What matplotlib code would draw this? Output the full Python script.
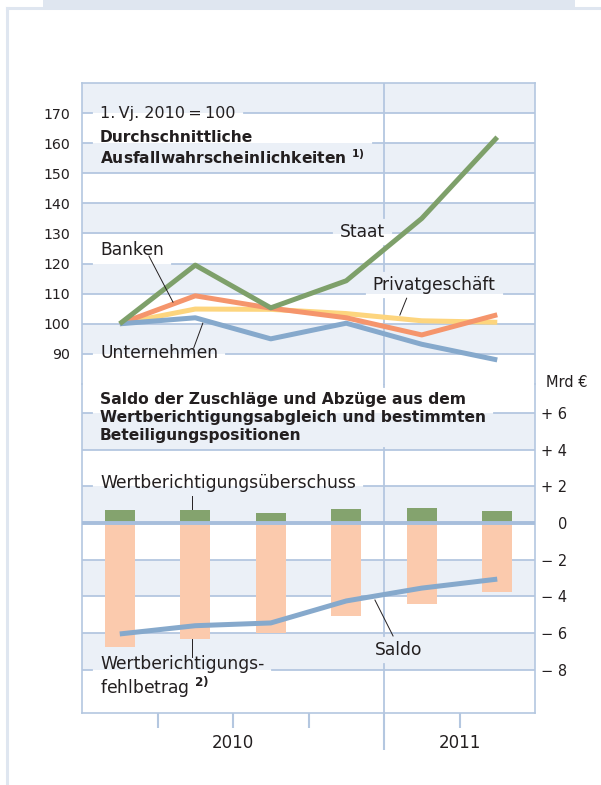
import numpy as np
import matplotlib
matplotlib.use('Agg')
import matplotlib.pyplot as plt
from matplotlib.lines import Line2D
from matplotlib.patches import Rectangle

# data (quarters 1.Vj. 2010 .. 2.Vj. 2011)
quarters = ['1.Vj.10', '2.Vj.10', '3.Vj.10', '4.Vj.10', '1.Vj.11', '2.Vj.11']
staat = [100, 119.5, 105.3, 114.3, 135.0, 162.0]
banken = [100, 109.3, 105.2, 102.0, 96.3, 103.0]
privat = [100, 104.9, 104.8, 103.4, 101.0, 100.5]
unternehmen = [100, 102.0, 95.0, 100.2, 93.2, 88.0]

ueberschuss = [0.71, 0.71, 0.53, 0.78, 0.80, 0.67]
fehlbetrag = [-6.76, -6.34, -6.00, -5.05, -4.39, -3.75]
saldo = [-6.05, -5.60, -5.45, -4.25, -3.55, -3.06]

left_ticks = [170, 160, 150, 140, 130, 120, 110, 100, 90]
right_ticks = [6, 4, 2, 0, -2, -4, -6, -8]
right_labels = ['+ 6', '+ 4', '+ 2', '0', '\u2212 2', '\u2212 4', '\u2212 6', '\u2212 8']
years = ['2010', '2011']
year_centers = [2, 5]

BAND = '#ebf0f7'
GRID = '#b4c7e0'
TXT = '#231f20'
FS = 12.3

plt.rcParams['font.family'] = ['DejaVu Sans']
plt.rcParams['mathtext.fontset'] = 'dejavusans'
plt.rcParams['text.color'] = TXT

W, H = 601, 785
fig = plt.figure(figsize=(W / 100, H / 100), dpi=100)


def frac(x0, y0, x1, y1):
    return [x0 / W, 1 - y1 / H, (x1 - x0) / W, (y1 - y0) / H]


ax1 = fig.add_axes(frac(82, 83, 535, 384))
ax2 = fig.add_axes(frac(82, 384, 535, 713))

# page decoration
fig.add_artist(Rectangle((43 / W, 1 - 7 / H), (575 - 43) / W, 7 / H,
                         transform=fig.transFigure, color='#dfe6f0', lw=0))
fig.add_artist(Line2D([7 / W, 7 / W], [0, 1 - 8 / H], color='#dfe6f0', lw=2.2))
fig.add_artist(Line2D([7 / W, 1], [1 - 8 / H, 1 - 8 / H], color='#dfe6f0', lw=2.2))

x = np.arange(len(quarters)) + 0.5

for ax in (ax1, ax2):
    ax.set_xlim(0, 6)
    ax.set_facecolor('none')
    for s in ax.spines.values():
        s.set_color(GRID)
        s.set_linewidth(1.2)

ax1.set_ylim(80, 180)
ax2.set_ylim(-10.36, 7.58)
ax1.spines['bottom'].set_visible(False)
ax2.spines['top'].set_visible(False)

# bands
for v in [90, 110, 130, 150, 170]:
    ax1.axhspan(v, v + 10, color=BAND, lw=0, zorder=0)
for v in [4, 0, -4, -8]:
    ax2.axhspan(v, v + 2, color=BAND, lw=0, zorder=0)

# top panel
ax1.set_xticks([])
ax1.set_yticks(left_ticks)
ax1.set_yticklabels([str(t) for t in left_ticks])
ax1.tick_params(axis='y', length=0, pad=8.5, labelsize=10.2, labelcolor=TXT)

ax1.plot(x, privat, color='#fdd57e', lw=3.6, zorder=3, solid_capstyle='butt')
ax1.plot(x, banken, color='#f5956c', lw=3.6, zorder=3, solid_capstyle='butt')
ax1.plot(x, unternehmen, color='#86a9cc', lw=3.6, zorder=3, solid_capstyle='butt')
ax1.plot(x, staat, color='#7ea06a', lw=3.6, zorder=3, solid_capstyle='butt')

texts = []
texts.append(ax1.text(0.24, 170, '1.\u2009Vj. 2010\u2009=\u2009100', fontsize=11.5, va='center'))
texts.append(ax1.text(0.24, 158.2, 'Durchschnittliche\nAusfallwahrscheinlichkeiten $^{\\mathbf{1)}}$',
                      fontsize=11.2, fontweight='bold', va='center', linespacing=1.2))
texts.append(ax1.text(3.71, 130.5, 'Staat', fontsize=FS, ha='center', va='center'))
texts.append(ax1.text(0.24, 124.5, 'Banken', fontsize=FS, va='center'))
texts.append(ax1.text(3.85, 113, 'Privatgeschäft', fontsize=FS, va='center'))
texts.append(ax1.text(0.24, 90.3, 'Unternehmen', fontsize=FS, va='center'))

lk = dict(color=TXT, lw=0.7, zorder=5)
ax1.plot([0.887, 1.205], [122.5, 107.2], **lk)
ax1.plot([1.60, 1.48], [100.2, 92.0], **lk)
ax1.plot([4.30, 4.21], [108.5, 102.9], **lk)

# bottom panel
ax2.bar(x, ueberschuss, width=0.4, color='#84a36e', zorder=2)
ax2.bar(x, fehlbetrag, width=0.4, color='#fbcaad', zorder=2)
ax2.axhline(0, color='#a7bedc', lw=2.8, zorder=3)
ax2.plot(x, saldo, color='#86a9cc', lw=3.6, zorder=4, solid_capstyle='butt')

ax2.yaxis.tick_right()
ax2.set_yticks(right_ticks)
ax2.set_yticklabels(right_labels)
ax2.tick_params(axis='y', length=0, pad=23, labelsize=10.5, labelcolor=TXT)
for lbl in ax2.get_yticklabels():
    lbl.set_horizontalalignment('right')
ax2.text(6.15, 7.64, 'Mrd €', fontsize=10.5, va='center', clip_on=False)

ax2.set_xticks([1, 2, 3, 5])
ax2.set_xticks([4], minor=True)
ax2.tick_params(axis='x', which='major', length=10.8, width=1.5, color=GRID,
                labelbottom=False, direction='out')
ax2.tick_params(axis='x', which='minor', length=26.6, width=1.5, color=GRID,
                labelbottom=False, direction='out')
for xc, yr in zip(year_centers, years):
    ax2.text(xc, -0.091, yr, transform=ax2.get_xaxis_transform(), fontsize=12,
             ha='center', va='center')

texts.append(ax2.text(0.24, 5.75, 'Saldo der Zuschläge und Abzüge aus dem\n'
                      'Wertberichtigungsabgleich und bestimmten\nBeteiligungspositionen',
                      fontsize=11.2, fontweight='bold', va='center', linespacing=1.25))
texts.append(ax2.text(0.24, 2.18, 'Wertberichtigungsüberschuss', fontsize=FS, va='center'))
texts.append(ax2.text(0.24, -8.43, 'Wertberichtigungs-\nfehlbetrag $^{\\mathbf{2)}}$',
                      fontsize=FS, va='center', linespacing=1.1))
texts.append(ax2.text(3.88, -6.93, 'Saldo', fontsize=FS, va='center'))

ax2.plot([1.46, 1.46], [1.47, 0.76], **lk)
ax2.plot([1.46, 1.46], [-6.33, -7.31], **lk)
ax2.plot([3.88, 4.12], [-4.2, -6.16], **lk)

# grid lines with gaps where labels sit
fig.canvas.draw()
renderer = fig.canvas.get_renderer()
boxes = [t.get_window_extent(renderer) for t in texts]


def segments(ax, value, horizontal, padx=8, pady=5):
    if horizontal:
        pos = ax.transData.transform((0, value))[1]
        lo, hi = ax.bbox.x0, ax.bbox.x1
        cuts = [(b.x0 - padx, b.x1 + padx) for b in boxes if b.y0 - pady <= pos <= b.y1 + pady]
    else:
        pos = ax.transData.transform((value, 0))[0]
        lo, hi = ax.bbox.y0, ax.bbox.y1
        cuts = [(b.y0 - pady, b.y1 + pady) for b in boxes if b.x0 - padx <= pos <= b.x1 + padx]
    out = []
    start = lo
    for c0, c1 in sorted(cuts):
        if c0 > start:
            out.append((start, min(c0, hi)))
        start = max(start, c1)
    if start < hi:
        out.append((start, hi))
    inv = ax.transData.inverted()
    res = []
    for a, b in out:
        if horizontal:
            res.append(([inv.transform((a, pos))[0], inv.transform((b, pos))[0]], [value, value]))
        else:
            res.append(([value, value], [inv.transform((pos, a))[1], inv.transform((pos, b))[1]]))
    return res


for ax, levels in ((ax1, left_ticks), (ax2, [t for t in right_ticks if t != 0])):
    for v in levels:
        for xs, ys in segments(ax, v, True):
            ax.plot(xs, ys, color=GRID, lw=1.3, zorder=1)
    for xs, ys in segments(ax, 4, False):
        ax.plot(xs, ys, color=GRID, lw=1.3, zorder=1)

fig.savefig('out.png', dpi=100)
